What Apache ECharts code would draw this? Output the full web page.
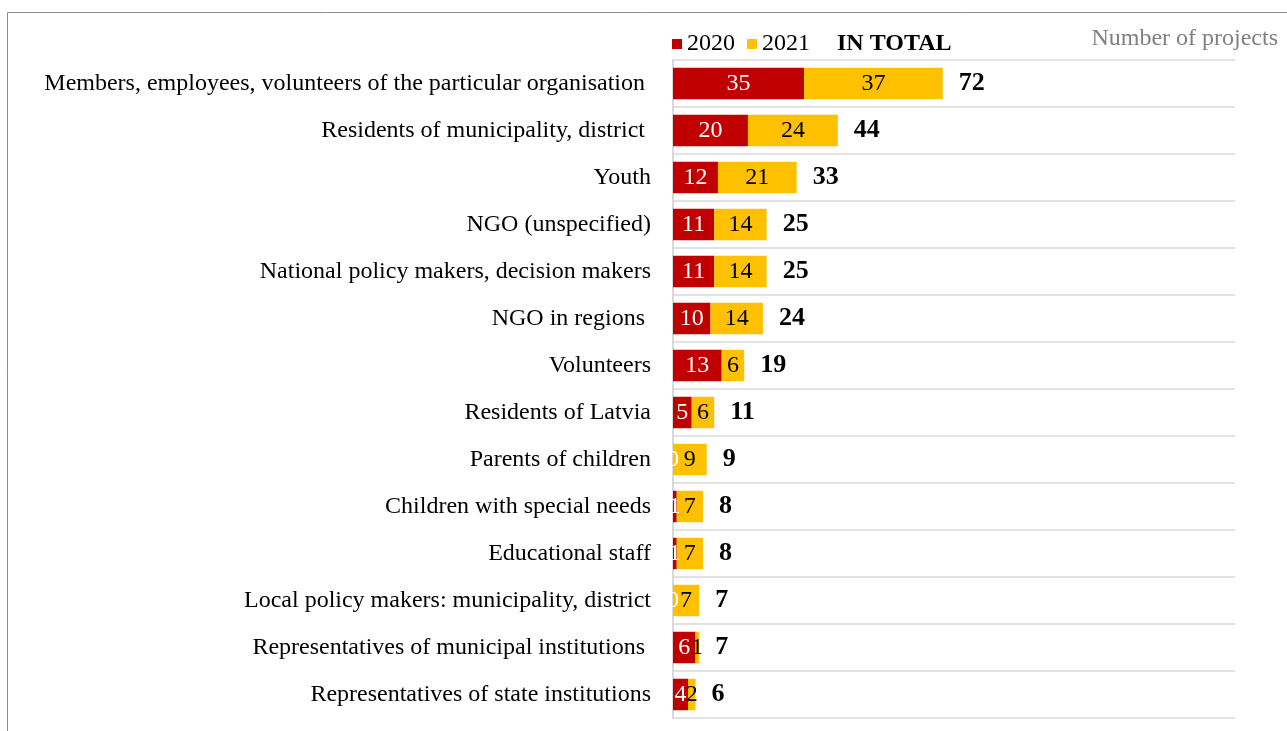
<!DOCTYPE html>
<html>
<head>
<meta charset="utf-8">
<script src="https://cdn.jsdelivr.net/npm/echarts@6/dist/echarts.min.js"></script>
<style>
html,body{margin:0;padding:0;background:#fff;}
#chart{width:1287px;height:731px;}
</style>
</head>
<body>
<div id="chart"></div>
<script>
var categories = [
  "Members, employees, volunteers of the particular organisation ",
  "Residents of municipality, district ",
  "Youth",
  "NGO (unspecified)",
  "National policy makers, decision makers",
  "NGO in regions ",
  "Volunteers",
  "Residents of Latvia",
  "Parents of children",
  "Children with special needs",
  "Educational staff",
  "Local policy makers: municipality, district",
  "Representatives of municipal institutions ",
  "Representatives of state institutions"
];
var values2020 = [35, 20, 12, 11, 11, 10, 13, 5, 0, 1, 1, 0, 6, 4];
var values2021 = [37, 24, 21, 14, 14, 14, 6, 6, 9, 7, 7, 7, 1, 2];
var totals = [72, 44, 33, 25, 25, 24, 19, 11, 9, 8, 8, 7, 7, 6];

var FONT = "'Liberation Serif', 'Times New Roman', serif";
var chart = echarts.init(document.getElementById('chart'));
chart.setOption({
  animation: false,
  textStyle: { fontFamily: FONT },
  graphic: [{
    type: 'rect',
    shape: { x: 7.5, y: 12.5, width: 1400, height: 800 },
    style: { fill: 'none', stroke: '#8c8c8c', lineWidth: 1 },
    silent: true
  }],
  title: {
    text: 'Number of projects',
    right: 9,
    top: 27,
    padding: 0,
    textStyle: { fontFamily: FONT, fontSize: 24, fontWeight: 'normal', color: '#808080' }
  },
  legend: {
    left: 667,
    top: 27,
    itemWidth: 10,
    itemHeight: 10,
    itemGap: 12,
    textStyle: { fontFamily: FONT, fontSize: 24, color: '#000' },
    data: [
      { name: '2020', icon: 'rect' },
      { name: '2021', icon: 'rect' },
      { name: 'IN TOTAL', icon: 'none', textStyle: { fontWeight: 'bold', fontSize: 24, color: '#000' } }
    ]
  },
  grid: { left: 673, right: 52, top: 60, bottom: 13, containLabel: false },
  xAxis: {
    type: 'value',
    min: 0,
    max: 150,
    show: false,
    splitLine: { show: false }
  },
  yAxis: {
    type: 'category',
    data: categories,
    inverse: true,
    axisLine: { show: true, lineStyle: { color: '#d9d9d9', width: 2 } },
    axisTick: { show: false },
    splitLine: { show: true, lineStyle: { color: '#d9d9d9', width: 1.5 } },
    axisLabel: { margin: 22, padding: [4, 0, 0, 0], fontFamily: FONT, fontSize: 24, color: '#000' }
  },
  series: [
    {
      name: '2020',
      type: 'bar',
      stack: 'total',
      barWidth: '67%',
      barGap: '-100%',
      itemStyle: { color: '#C00000' },
      label: { show: true, position: 'inside', padding: [2, 0, 0, 0], color: '#fff', fontFamily: FONT, fontSize: 24 },
      data: values2020
    },
    {
      name: '2021',
      type: 'bar',
      stack: 'total',
      barWidth: '67%',
      barGap: '-100%',
      itemStyle: { color: '#FFC000' },
      label: { show: true, position: 'inside', padding: [2, 0, 0, 0], color: '#000', fontFamily: FONT, fontSize: 24 },
      data: values2021
    },
    {
      name: 'IN TOTAL',
      type: 'bar',
      barWidth: '67%',
      barGap: '-100%',
      z: 1,
      silent: true,
      itemStyle: { color: 'rgba(0,0,0,0)' },
      label: {
        show: true, position: 'right', distance: 16, padding: [4, 0, 0, 0],
        color: '#000', fontFamily: FONT, fontSize: 26, fontWeight: 'bold'
      },
      data: totals
    }
  ]
});
</script>
</body>
</html>
